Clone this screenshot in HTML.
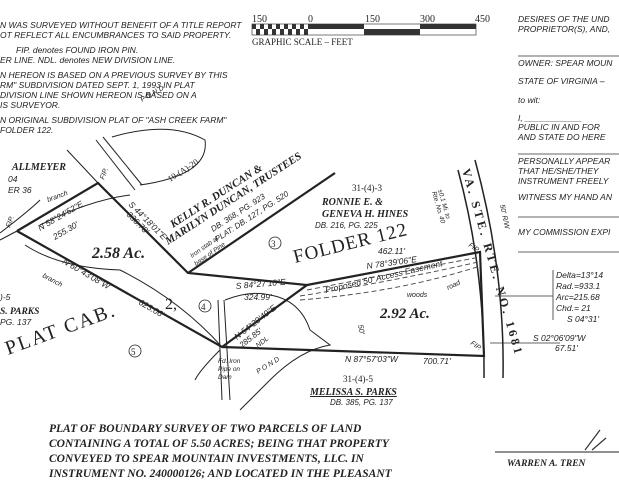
<!DOCTYPE html>
<html><head><meta charset="utf-8"><style>
html,body{margin:0;padding:0;background:#fff;}
body{width:619px;height:480px;overflow:hidden;position:relative;}
svg{position:absolute;left:0;top:0;}
.n{font-family:"Liberation Sans",sans-serif;font-style:italic;font-size:8.5px;fill:#222;}
.s{font-family:"Liberation Serif",serif;font-style:italic;font-weight:bold;fill:#222;}
.r{font-family:"Liberation Serif",serif;fill:#222;}
.i{font-family:"Liberation Sans",sans-serif;font-style:italic;fill:#222;}
</style></head><body>
<svg width="619" height="480" viewBox="0 0 619 480">
<!-- top-left notes -->
<text class="n" x="0" y="28">N WAS SURVEYED WITHOUT BENEFIT OF A TITLE REPORT</text>
<text class="n" x="0" y="38">OT REFLECT ALL ENCUMBRANCES  TO SAID PROPERTY.</text>
<text class="n" x="16" y="53">FIP. denotes FOUND IRON PIN.</text>
<text class="n" x="0" y="63">ER LINE.    NDL. denotes NEW DIVISION LINE.</text>
<text class="n" x="0" y="78">N HEREON IS BASED ON A PREVIOUS SURVEY BY THIS</text>
<text class="n" x="0" y="88">RM" SUBDIVISION DATED SEPT. 1, 1993 IN PLAT</text>
<text class="n" x="0" y="98">  DIVISION LINE SHOWN HEREON IS BASED ON A</text>
<text class="n" x="0" y="108">IS SURVEYOR.</text>
<text class="n" x="0" y="123">N ORIGINAL SUBDIVISION PLAT OF "ASH CREEK FARM"</text>
<text class="n" x="0" y="133"> FOLDER 122.</text>
<!-- scale -->
<text class="r" x="252" y="22" font-size="10">150</text>
<text class="r" x="308" y="22" font-size="10">0</text>
<text class="r" x="365" y="22" font-size="10" fill="#666">150</text>
<text class="r" x="420" y="22" font-size="10" fill="#666">300</text>
<text class="r" x="475" y="22" font-size="10">450</text>
<g stroke="#222" stroke-width="0.6">
<rect x="252" y="24" width="224" height="11" fill="#fff"/>
</g>
<g fill="#333">
<rect x="252" y="24" width="4" height="5"/><rect x="260" y="24" width="4" height="5"/><rect x="268" y="24" width="4" height="5"/><rect x="276" y="24" width="4" height="5"/><rect x="284" y="24" width="4" height="5"/><rect x="292" y="24" width="4" height="5"/><rect x="300" y="24" width="4" height="5"/>
<rect x="256" y="29" width="4" height="6"/><rect x="264" y="29" width="4" height="6"/><rect x="272" y="29" width="4" height="6"/><rect x="280" y="29" width="4" height="6"/><rect x="288" y="29" width="4" height="6"/><rect x="296" y="29" width="4" height="6"/><rect x="304" y="29" width="4" height="6"/>
<rect x="308" y="24" width="56" height="5"/>
<rect x="364" y="29" width="56" height="6"/>
<rect x="420" y="24" width="56" height="5"/>
</g>
<text class="r" x="252" y="45" font-size="9">GRAPHIC SCALE  –  FEET</text>
<!-- right column -->
<g class="i" font-size="8.5">
<text x="518" y="22">DESIRES OF THE UND</text>
<text x="518" y="32">PROPRIETOR(S), AND,</text>
<text x="518" y="66">OWNER: SPEAR MOUN</text>
<text x="518" y="84">STATE OF VIRGINIA –</text>
<text x="518" y="103">to wit:</text>
<text x="518" y="121">I, ____________</text>
<text x="518" y="130">PUBLIC IN AND FOR</text>
<text x="518" y="140">AND STATE DO HERE</text>
<text x="518" y="164">PERSONALLY APPEAR</text>
<text x="518" y="174">THAT HE/SHE/THEY</text>
<text x="518" y="184">INSTRUMENT FREELY</text>
<text x="518" y="200">WITNESS MY HAND AN</text>
<text x="518" y="235">MY COMMISSION EXPI</text>
</g>
<g stroke="#333" stroke-width="0.8">
<line x1="518" y1="56" x2="619" y2="56"/><line x1="518" y1="154" x2="619" y2="154"/>
<line x1="518" y1="217" x2="619" y2="217"/><line x1="518" y1="252" x2="619" y2="252"/>
<line x1="553" y1="270" x2="553" y2="320"/><line x1="495" y1="296" x2="553" y2="296"/>
<line x1="490" y1="343" x2="560" y2="343"/>
</g>
<g class="i" font-size="8.5">
<text x="556" y="278">Delta=13°14</text><text x="556" y="289">Rad.=933.1</text>
<text x="556" y="300">Arc=215.68</text><text x="556" y="311">Chd.=   21</text>
<text x="567" y="322">S 04°31'</text>
<text x="533" y="341">S 02°06'09"W</text><text x="555" y="351">67.51'</text>
</g>
<!-- road -->
<g fill="none" stroke="#222" stroke-width="1.5">
<path d="M458,170 Q485,270 484,378"/>
<path d="M475,160 Q505,270 503,378"/>
</g>
<text class="r" font-size="12" font-weight="bold" transform="translate(462,170) rotate(74)" letter-spacing="3">VA. STE. RTE. NO. 1681</text>
<text class="i" font-size="7" transform="translate(500,205) rotate(78)">50' R/W</text>
<text class="i" font-size="6.5" transform="translate(438,190) rotate(74)">±0.1 Mi. to</text>
<text class="i" font-size="6.5" transform="translate(432,192) rotate(74)">Rte. No. 40</text>
<!-- boundary lines -->
<g fill="none" stroke="#222" stroke-width="2.2">
<path d="M17,231 L98,183 L188,273 L307,285 L222,347 L17,231"/>
<path d="M307,285 L480,252 L484,356 L222,347"/>
<path d="M188,273 L335,173"/>
</g>
<g fill="none" stroke="#222" stroke-width="1">
<path d="M67,150 L98,183"/><path d="M0,240 L17,231"/>
<path d="M0,233 Q30,210 40,200"/>
<path d="M40,225 Q90,200 130,195"/>
<path d="M25,245 Q60,268 120,270 Q180,300 222,347"/>
<path d="M96,140 L135,190"/><path d="M103,137 L142,185"/>
<path d="M112,137 Q170,120 205,140 Q210,175 140,185"/>
<path d="M218,300 L222,400"/><path d="M224,300 L230,400"/>
<path d="M225,300 Q250,290 270,295 Q300,300 310,330 L330,345 Q300,350 270,380 Q250,400 240,410"/>
<path d="M220,350 Q200,370 195,380"/>
</g>
<g fill="none" stroke="#444" stroke-width="0.9" stroke-dasharray="5,3">
<path d="M307,290 Q400,272 475,258"/>
<path d="M300,296 Q400,280 478,262"/>
<path d="M300,300 Q400,292 480,266"/>
</g>
<!-- labels -->
<text class="s" x="12" y="170" font-size="10">ALLMEYER</text>
<text class="i" x="8" y="182" font-size="8.5">04</text>
<text class="i" x="8" y="193" font-size="8.5">ER 36</text>
<text class="i" font-size="7" transform="translate(48,202) rotate(-20)">branch</text>
<text class="i" font-size="7" transform="translate(42,277) rotate(28)">branch</text>
<text class="i" font-size="7" transform="translate(10,228) rotate(-70)">FIP.</text>
<text class="i" font-size="7" transform="translate(104,180) rotate(-70)">FIP.</text>
<text class="i" font-size="8.5" transform="translate(40,231) rotate(-30)">N 58°24'52"E</text>
<text class="i" font-size="8.5" transform="translate(55,240) rotate(-30)">255.30'</text>
<text class="i" font-size="8.5" transform="translate(128,205) rotate(45)">S 44°18'01"E</text>
<text class="i" font-size="8.5" transform="translate(126,215) rotate(45)">336.78'</text>
<text class="s" x="92" y="258" font-size="16">2.58 Ac.</text>
<text class="i" font-size="8.5" transform="translate(62,263) rotate(30)">N 60°43'08"W</text>
<text class="i" font-size="8.5" transform="translate(138,304) rotate(30)">623.06'</text>
<text class="r" font-size="16" x="165" y="309">2,</text>
<circle cx="205" cy="306" r="6" fill="none" stroke="#222" stroke-width="0.8"/><text class="r" x="201" y="310" font-size="9">4</text>
<circle cx="135" cy="351" r="6" fill="none" stroke="#222" stroke-width="0.8"/><text class="r" x="131" y="355" font-size="9">5</text>
<circle cx="275" cy="243" r="6" fill="none" stroke="#222" stroke-width="0.8"/><text class="r" x="271" y="247" font-size="9">3</text>
<text class="r" font-size="20" transform="translate(8,355) rotate(-20)" letter-spacing="2">PLAT CAB.</text>
<text class="i" x="0" y="300" font-size="8.5">)-5</text>
<text class="s" x="0" y="314" font-size="9.5">S. PARKS</text>
<text class="i" x="0" y="325" font-size="8.5">PG. 137</text>
<text class="i" font-size="7" transform="translate(142,102) rotate(-30)">P O N D</text>
<text class="r" font-size="8.5" transform="translate(170,182) rotate(-33)">19-(A)-20</text>
<text class="s" font-size="11" transform="translate(173,228) rotate(-33)">KELLY R. DUNCAN &amp;</text>
<text class="s" font-size="11" transform="translate(168,245) rotate(-33)">MARILYN DUNCAN, TRUSTEES</text>
<text class="i" font-size="8" transform="translate(213,232) rotate(-33)">DB. 368, PG. 923</text>
<text class="i" font-size="8" transform="translate(217,242) rotate(-33)">PLAT: DB. 127, PG. 520</text>
<text class="i" font-size="6.5" transform="translate(192,258) rotate(-35)">Iron stab at</text>
<text class="i" font-size="6.5" transform="translate(196,266) rotate(-35)">base of Pine</text>
<text class="r" x="352" y="191" font-size="9">31-(4)-3</text>
<text class="s" x="322" y="205" font-size="10">RONNIE E. &amp;</text>
<text class="s" x="322" y="217" font-size="10">GENEVA H. HINES</text>
<text class="i" x="315" y="228" font-size="8">DB. 216, PG. 225</text>
<text class="r" font-size="19" transform="translate(295,263) rotate(-14)" fill="#333" letter-spacing="1">FOLDER 122</text>
<text class="i" font-size="8.5" transform="translate(236,289) rotate(-5)">S 84°27'10"E</text>
<text class="i" font-size="8.5" x="244" y="300">324.99'</text>
<text class="i" font-size="8.5" transform="translate(237,340) rotate(-38)">N 54°29'49"E</text>
<text class="i" font-size="8" transform="translate(242,348) rotate(-38)">285.85'</text>
<text class="i" font-size="7" transform="translate(258,348) rotate(-38)">NDL</text>
<text class="i" font-size="7" transform="translate(258,374) rotate(-32)">P O N D</text>
<text class="i" x="218" y="363" font-size="6.5">Fd. Iron</text>
<text class="i" x="218" y="371" font-size="6.5">Pipe on</text>
<text class="i" x="218" y="379" font-size="6.5">Dam</text>
<text class="i" x="378" y="254" font-size="8.5">462.11'</text>
<text class="i" x="367" y="269" font-size="8.5" transform="rotate(-8 367 269)">N 78°39'06"E</text>
<text class="i" font-size="8.5" transform="translate(326,293) rotate(-13)">Proposed 50' Access Easement</text>
<text class="i" x="407" y="297" font-size="7">woods</text>
<text class="i" font-size="7" transform="translate(448,290) rotate(-25)">road</text>
<text class="i" font-size="7" transform="translate(468,246) rotate(35)">FIP.</text>
<text class="i" font-size="7" transform="translate(470,344) rotate(35)">FIP.</text>
<text class="s" x="380" y="318" font-size="15">2.92 Ac.</text>
<text class="i" font-size="7.5" transform="translate(358,325) rotate(80)">50'</text>
<text class="i" x="345" y="362" font-size="8.5">N 87°57'03"W</text>
<text class="i" x="423" y="364" font-size="8.5">700.71'</text>
<text class="r" x="343" y="382" font-size="9">31-(4)-5</text>
<text class="s" x="310" y="395" font-size="10" text-decoration="underline">MELISSA S. PARKS</text>
<text class="i" x="330" y="405" font-size="8">DB. 385, PG. 137</text>
<!-- bottom title -->
<g class="s" font-size="11.5" font-weight="normal">
<text x="49" y="432">PLAT OF BOUNDARY SURVEY OF TWO PARCELS OF LAND</text>
<text x="49" y="447">CONTAINING A TOTAL OF 5.50 ACRES; BEING THAT PROPERTY</text>
<text x="49" y="462">CONVEYED TO SPEAR MOUNTAIN INVESTMENTS, LLC. IN</text>
<text x="49" y="477">INSTRUMENT NO. 240000126; AND LOCATED IN THE PLEASANT</text>
</g>
<line x1="495" y1="452" x2="619" y2="452" stroke="#222" stroke-width="1"/>
<text class="s" x="507" y="466" font-size="9.5">WARREN A. TREN</text>
<path d="M585,450 L600,430 M592,450 L606,438" stroke="#333" stroke-width="1.2" fill="none"/>
</svg>
</body></html>
